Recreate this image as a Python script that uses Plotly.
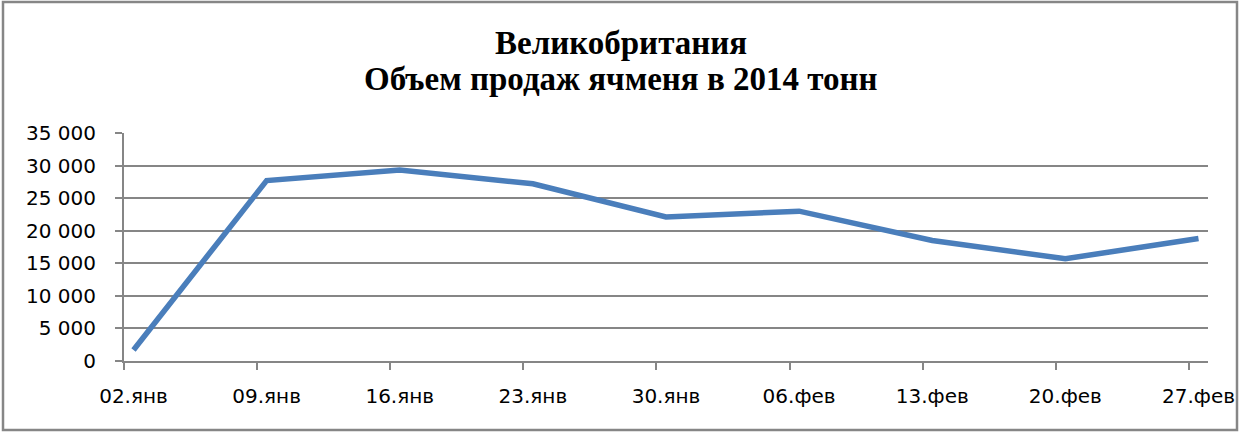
import plotly.graph_objects as go
import pandas as pd

dates = ["2014-01-02", "2014-01-09", "2014-01-16", "2014-01-23", "2014-01-30",
         "2014-02-06", "2014-02-13", "2014-02-20", "2014-02-27"]
labels = ["02.янв", "09.янв", "16.янв", "23.янв", "30.янв",
          "06.фев", "13.фев", "20.фев", "27.фев"]
values = [1700, 27700, 29300, 27200, 22100, 23000, 18500, 15700, 18800]

title_lines = ["Великобритания", "Объем продаж ячменя в 2014 тонн"]

day_start = pd.to_datetime(dates)
mid_day = day_start + pd.Timedelta(hours=12)

W, H = 1239, 434
L, R, T, B = 124, 31, 133, 73
PW, PH = W - L - R, H - T - B


def px_x(p):
    return (p - L) / PW


def px_y(p):
    return (H - B - p) / PH


fig = go.Figure()
fig.add_trace(go.Scatter(
    x=mid_day, y=values, mode="lines",
    line=dict(color="#4A7EBB", width=5.5),
    showlegend=False, hoverinfo="skip",
))

title_font = dict(family="Liberation Serif", size=33, color="black", weight="bold")
annotations = [
    dict(text=t, xref="paper", yref="paper", x=px_x(621), y=px_y(py),
         xanchor="center", yanchor="middle", showarrow=False, font=title_font)
    for t, py in zip(title_lines, [43, 79])
]

fig.update_layout(
    width=W, height=H, autosize=False,
    margin=dict(l=L, r=R, t=T, b=B),
    paper_bgcolor="white", plot_bgcolor="white",
    separators=", ",
    annotations=annotations,
    xaxis=dict(
        type="date", automargin=False,
        range=[day_start[0], day_start[-1] + pd.Timedelta(days=1)],
        tickmode="array", tickvals=mid_day, ticktext=labels,
        ticks="", showgrid=False, zeroline=False,
        showline=True, linecolor="#868686", linewidth=2,
        ticklabelstandoff=16,
        tickfont=dict(family="DejaVu Sans", size=20, color="black"),
        minor=dict(tickmode="array", tickvals=day_start, ticks="outside",
                   ticklen=7, tickwidth=2, tickcolor="#868686", showgrid=False),
    ),
    yaxis=dict(
        automargin=False,
        range=[0, 35000], tickmode="linear", tick0=0, dtick=5000,
        tickformat=",d",
        showgrid=True, gridcolor="#868686", gridwidth=2,
        zeroline=False,
        showline=True, linecolor="#868686", linewidth=2,
        ticks="outside", ticklen=7, tickwidth=2, tickcolor="#868686",
        ticklabelstandoff=15,
        tickfont=dict(family="DejaVu Sans", size=20, color="black"),
    ),
    shapes=[dict(
        type="rect", xref="paper", yref="paper",
        x0=px_x(3), x1=px_x(1237),
        y0=px_y(430), y1=px_y(2),
        line=dict(color="#868686", width=2.5), fillcolor="rgba(0,0,0,0)",
        layer="below",
    )],
)

fig.write_html(
    "out.html",
    config={"displayModeBar": False, "responsive": False},
    post_script="document.body.style.margin='0';document.body.style.overflow='hidden';",
)
